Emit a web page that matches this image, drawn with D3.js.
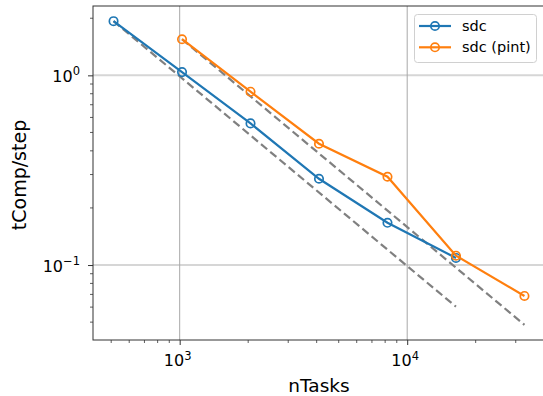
<!DOCTYPE html>
<html>
<head>
<meta charset="utf-8">
<script src="https://cdn.jsdelivr.net/npm/d3@7"></script>
<style>
  html, body { margin: 0; padding: 0; background: #fff; }
  svg { display: block; font-family: "DejaVu Sans", sans-serif; }
</style>
</head>
<body>
<div id="chart"></div>
<script>
// Compute time per step versus number of tasks (log-log strong scaling)
const nTasksSdc = [512, 1024, 2048, 4096, 8192, 16384];
const tCompSdc = [1.93, 1.04, 0.558, 0.285, 0.167, 0.109];

const nTasksPint = [1024, 2048, 4096, 8192, 16384, 32768];
const tCompPint = [1.55, 0.82, 0.436, 0.292, 0.112, 0.0687];

// Ideal-scaling reference lines (end points)
const idealSdcX = [512, 16384];
const idealSdcY = [1.93, 0.0603];
const idealPintX = [1024, 32768];
const idealPintY = [1.55, 0.0484];

const seriesNames = ["sdc", "sdc (pint)"];
const seriesColors = ["#1f77b4", "#ff7f0e"];
const xTickValues = [1e3, 1e4];
const xTickExps = ["3", "4"];
const yTickValues = [1e-1, 1e0];
const yTickExps = ["\u22121", "0"];

const W = 543, H = 396;
const plot = { left: 93, right: 545, top: 6, bottom: 340 };

// Autoscale with 5% padding in log space
function padLog(vals) {
  const lo = Math.log10(d3.min(vals)), hi = Math.log10(d3.max(vals));
  const m = (hi - lo) * 0.05;
  return [Math.pow(10, lo - m), Math.pow(10, hi + m)];
}
const allX = nTasksSdc.concat(nTasksPint, idealSdcX, idealPintX);
const allY = tCompSdc.concat(tCompPint, idealSdcY, idealPintY);

const x = d3.scaleLog().domain(padLog(allX)).range([plot.left, plot.right]);
const y = d3.scaleLog().domain(padLog(allY)).range([plot.bottom, plot.top]);

const svg = d3.select("#chart").append("svg").attr("width", W).attr("height", H);

// Grid
const grid = svg.append("g");
grid.selectAll("line.hg").data(yTickValues).join("line")
  .attr("x1", plot.left).attr("x2", plot.right)
  .attr("y1", d => y(d)).attr("y2", d => y(d))
  .attr("stroke", "#d6d6d6").attr("stroke-width", 2);
grid.selectAll("line.vg").data(xTickValues).join("line")
  .attr("y1", plot.top).attr("y2", plot.bottom)
  .attr("x1", d => x(d)).attr("x2", d => x(d))
  .attr("stroke", "#a8a8a8").attr("stroke-width", 1);

// Minor ticks
const [xd0, xd1] = x.domain();
const xMinor = [];
for (let e = 2; e <= 4; e++) for (let k = 2; k <= 9; k++) {
  const v = k * Math.pow(10, e);
  if (v >= xd0 && v <= xd1) xMinor.push(v);
}
const [yd0, yd1] = y.domain();
const yMinor = [];
for (let e = -2; e <= 0; e++) for (let k = 2; k <= 9; k++) {
  const v = k * Math.pow(10, e);
  if (v >= yd0 && v <= yd1) yMinor.push(v);
}

const axisCol = "#333";
const xAxis = d3.axisBottom(x).tickValues(xTickValues).tickSize(5).tickFormat("");
const gx = svg.append("g").attr("transform", `translate(0,${plot.bottom})`).call(xAxis);
gx.select(".domain").remove();
gx.selectAll(".tick line").attr("stroke", axisCol).attr("stroke-width", 1);
gx.selectAll(".tick text").remove();
gx.selectAll("line.minor").data(xMinor).join("line")
  .attr("x1", d => x(d)).attr("x2", d => x(d)).attr("y1", 0).attr("y2", 3)
  .attr("stroke", axisCol).attr("stroke-width", 0.8);

const yAxis = d3.axisLeft(y).tickValues(yTickValues).tickSize(5).tickFormat("");
const gy = svg.append("g").attr("transform", `translate(${plot.left},0)`).call(yAxis);
gy.select(".domain").remove();
gy.selectAll(".tick line").attr("stroke", axisCol).attr("stroke-width", 1);
gy.selectAll("line.minor").data(yMinor).join("line")
  .attr("y1", d => y(d)).attr("y2", d => y(d)).attr("x1", 0).attr("x2", -3)
  .attr("stroke", axisCol).attr("stroke-width", 0.8);

// Tick labels with superscript exponents
const fs = 16;
xTickValues.forEach((v, i) => {
  const t = svg.append("text").attr("x", x(v) - 2).attr("y", 366)
    .attr("text-anchor", "middle").attr("font-size", fs).attr("fill", "#000");
  t.append("tspan").text("10");
  t.append("tspan").attr("dy", -6.5).attr("font-size", fs * 0.72).text(xTickExps[i]);
});
yTickValues.forEach((v, i) => {
  const t = svg.append("text").attr("x", 80).attr("y", y(v) + 6.5)
    .attr("text-anchor", "end").attr("font-size", fs).attr("fill", "#000");
  t.append("tspan").text("10");
  t.append("tspan").attr("dy", -6.5).attr("font-size", fs * 0.72).text(yTickExps[i]);
});

// Spines
svg.append("rect")
  .attr("x", plot.left).attr("y", plot.top)
  .attr("width", plot.right - plot.left).attr("height", plot.bottom - plot.top)
  .attr("fill", "none").attr("stroke", axisCol).attr("stroke-width", 1);

// Axis labels
svg.append("text").attr("x", (plot.left + plot.right) / 2).attr("y", 392)
  .attr("text-anchor", "middle").attr("font-size", 18.5).text("nTasks");
svg.append("text")
  .attr("transform", `translate(26,${(plot.top + plot.bottom) / 2 + 2}) rotate(-90)`)
  .attr("text-anchor", "middle").attr("font-size", 19).text("tComp/step");

// Data layer
const line = d3.line().x(d => x(d[0])).y(d => y(d[1]));
const plotG = svg.append("g");

[[idealSdcX, idealSdcY], [idealPintX, idealPintY]].forEach(([xs, ys]) => {
  plotG.append("path").datum(xs.map((v, i) => [v, ys[i]]))
    .attr("d", line).attr("fill", "none")
    .attr("stroke", "#808080").attr("stroke-width", 2.2)
    .attr("stroke-dasharray", "8,4");
});

[[nTasksSdc, tCompSdc], [nTasksPint, tCompPint]].forEach(([xs, ys], si) => {
  const pts = xs.map((v, i) => [v, ys[i]]);
  plotG.append("path").datum(pts).attr("d", line).attr("fill", "none")
    .attr("stroke", seriesColors[si]).attr("stroke-width", 2.2);
  plotG.selectAll(null).data(pts).join("circle")
    .attr("cx", d => x(d[0])).attr("cy", d => y(d[1])).attr("r", 4.2)
    .attr("fill", "none").attr("stroke", seriesColors[si]).attr("stroke-width", 1.7);
});

// Legend
const lg = svg.append("g");
lg.append("rect").attr("x", 414.5).attr("y", 14.5).attr("width", 122).attr("height", 48)
  .attr("rx", 3).attr("fill", "#fff").attr("fill-opacity", 0.8)
  .attr("stroke", "#d0d0d0").attr("stroke-width", 1);
seriesNames.forEach((name, i) => {
  const cy = 26 + i * 21.3;
  lg.append("line").attr("x1", 419).attr("x2", 451).attr("y1", cy).attr("y2", cy)
    .attr("stroke", seriesColors[i]).attr("stroke-width", 2.2);
  lg.append("circle").attr("cx", 435).attr("cy", cy).attr("r", 4.2)
    .attr("fill", "none").attr("stroke", seriesColors[i]).attr("stroke-width", 1.7);
  lg.append("text").attr("x", 462).attr("y", cy + 5).attr("font-size", 14.5).text(name);
});
</script>
</body>
</html>
